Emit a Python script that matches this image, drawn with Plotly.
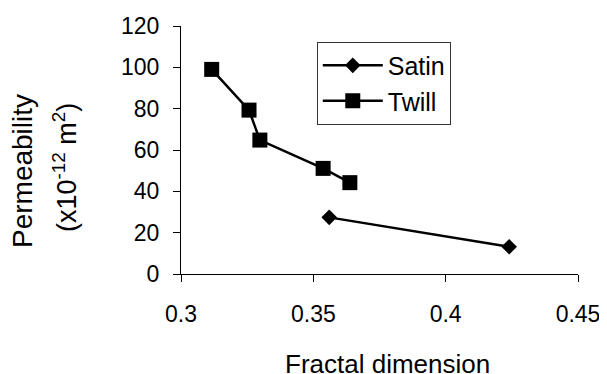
import plotly.graph_objects as go

satin_x = [0.356, 0.424]
satin_y = [27.4, 13.2]
twill_x = [0.3116, 0.3257, 0.3298, 0.3537, 0.3638]
twill_y = [99.0, 79.3, 64.8, 51.1, 44.2]
x_ticks = [0.3, 0.35, 0.4, 0.45]
x_tick_labels = ["0.3", "0.35", "0.4", "0.45"]
y_ticks = [0, 20, 40, 60, 80, 100, 120]

FONT = "Liberation Sans, Arial, sans-serif"
PAGE_OFFSET = 8  # default body margin of the html page

fig = go.Figure()
fig.add_trace(go.Scatter(x=satin_x, y=satin_y, name="Satin", mode="lines+markers",
                         legendgroup="a",
                         line=dict(color="black", width=2.5),
                         marker=dict(symbol="diamond", size=12, color="black")))
fig.add_trace(go.Scatter(x=twill_x, y=twill_y, name="Twill", mode="lines+markers",
                         legendgroup="b",
                         line=dict(color="black", width=2.5),
                         marker=dict(symbol="square", size=15, color="black")))

fig.update_layout(
    width=607 - PAGE_OFFSET, height=374 - PAGE_OFFSET,
    margin=dict(l=181 - PAGE_OFFSET, r=29, t=26 - PAGE_OFFSET, b=100, autoexpand=False),
    paper_bgcolor="white", plot_bgcolor="white",
    font=dict(family=FONT, color="black", size=23),
    showlegend=True,
    legend=dict(x=0.342, y=0.937, xanchor="left", yanchor="top",
                bordercolor="#333", borderwidth=1, bgcolor="white",
                tracegroupgap=0,
                font=dict(size=25, family=FONT), itemwidth=60),
    xaxis=dict(range=[0.3, 0.45], tickvals=x_ticks, ticktext=x_tick_labels,
               showgrid=False, zeroline=False, showline=True, linecolor="black",
               linewidth=1, ticks="outside", ticklen=7, tickcolor="black",
               automargin=False, ticklabelstandoff=12,
               tickfont=dict(size=23, family=FONT)),
    yaxis=dict(range=[0, 120], tickvals=y_ticks,
               showgrid=False, zeroline=False, showline=True, linecolor="black",
               linewidth=1, ticks="outside", ticklen=7, tickcolor="black",
               automargin=False, ticklabelstandoff=9,
               tickfont=dict(size=23, family=FONT)),
    annotations=[
        dict(text="Fractal dimension", xref="paper", yref="paper",
             x=(387.5 - 181) / 397, y=-(364 - 274) / 248, xanchor="center", yanchor="middle",
             showarrow=False, font=dict(size=26, family=FONT)),
        dict(text="Permeability", xref="paper", yref="paper", textangle=-90,
             x=-(181 - 22) / 397, y=(274 - 171) / 248, xanchor="center", yanchor="middle",
             showarrow=False, font=dict(size=28, family=FONT)),
        dict(text="(x10<sup>-12</sup> m<sup>2</sup>)", xref="paper", yref="paper", textangle=-90,
             x=-(181 - 65) / 397, y=(274 - 168) / 248, xanchor="center", yanchor="middle",
             showarrow=False, font=dict(size=27, family=FONT)),
    ],
)

fig.write_html("out.html")
